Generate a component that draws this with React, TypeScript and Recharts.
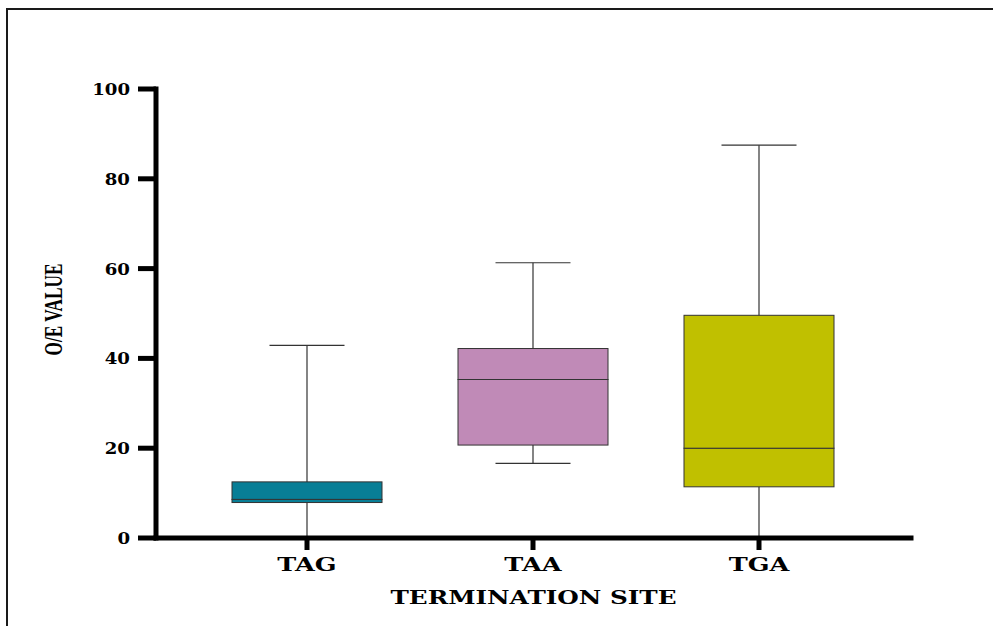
import React from "react";
import { ComposedChart, Bar, Cell, XAxis, YAxis } from "recharts";

const sites = ["TAG", "TAA", "TGA"];
const minimum = [0, 16.6, 0];
const lowerQuartile = [7.9, 20.7, 11.4];
const median = [8.6, 35.3, 20.0];
const upperQuartile = [12.5, 42.2, 49.6];
const maximum = [42.9, 61.3, 87.5];
const yTicks = [0, 20, 40, 60, 80, 100];

const BOX_COLORS = ["#087E96", "#C08AB7", "#C0C000"];
const EDGE = "#333";

// stacked segments: invisible base, lower whisker, two box halves, upper whisker
const rows = sites.map((site, i) => ({
  site,
  base: minimum[i],
  lowWhisker: lowerQuartile[i] - minimum[i],
  lowBox: median[i] - lowerQuartile[i],
  highBox: upperQuartile[i] - median[i],
  highWhisker: maximum[i] - upperQuartile[i],
}));

const whisker = (capAtTop: boolean) => (props: any) => {
  const { x, y, width, height } = props;
  const cx = x + width / 2;
  const capY = capAtTop ? y : y + height;
  const half = width / 4;
  return (
    <g>
      <line x1={cx} x2={cx} y1={y} y2={y + height} stroke={EDGE} strokeWidth={1.2} />
      <line x1={cx - half} x2={cx + half} y1={capY} y2={capY} stroke={EDGE} strokeWidth={1.2} />
    </g>
  );
};

const boxHalf = (props: any) => {
  const { x, y, width, height, fill } = props;
  return <rect x={x} y={y} width={width} height={height} fill={fill} stroke={EDGE} strokeWidth={1} />;
};

const serif = "'DejaVu Serif', serif";

const YTick = (props: any) => {
  const { x, y, payload } = props;
  return (
    <text
      transform={`translate(${x},${y}) scale(1.1,1)`}
      textAnchor="end"
      dy="0.36em"
      fontFamily={serif}
      fontWeight="bold"
      fontSize={16.5}
      fill="#000"
    >
      {payload.value}
    </text>
  );
};

const XTick = (props: any) => {
  const { x, y, payload } = props;
  return (
    <text
      transform={`translate(${x},${y}) scale(1.42,1)`}
      textAnchor="middle"
      dy="0.73em"
      fontFamily={serif}
      fontWeight="bold"
      fontSize={18}
      fill="#000"
    >
      {payload.value}
    </text>
  );
};

const XTitle = (props: any) => {
  const { x, y, width } = props.viewBox;
  return (
    <text
      transform={`translate(${x + width / 2},${y + 66}) scale(1.3,1)`}
      textAnchor="middle"
      fontFamily={serif}
      fontWeight="bold"
      fontSize={19}
      fill="#000"
    >
      TERMINATION SITE
    </text>
  );
};

const YTitle = (props: any) => {
  const { y, height } = props.viewBox;
  return (
    <text
      transform={`translate(62,${y + height / 2 - 4}) rotate(-90) scale(0.69,1)`}
      textAnchor="middle"
      fontFamily="'Liberation Serif', serif"
      fontWeight="bold"
      fontSize={25}
      fill="#000"
    >
      O/E VALUE
    </text>
  );
};

const axisLine = { stroke: "#000", strokeWidth: 5, strokeLinecap: "square" as const };
const tickLine = { stroke: "#000", strokeWidth: 5 };

export default function App() {
  return (
    <div style={{ position: "absolute", left: 0, top: 0, width: 993, height: 626, background: "#fff" }}>
      <div
        style={{
          position: "absolute",
          left: 6,
          top: 8,
          width: 990,
          height: 620,
          borderTop: "2px solid #1a1a1a",
          borderLeft: "2px solid #1a1a1a",
        }}
      />
      <ComposedChart
        width={993}
        height={626}
        data={rows}
        margin={{ top: 89, right: 82, bottom: 0, left: 0 }}
        style={{ position: "absolute", left: 0, top: 0 }}
      >
        <XAxis
          dataKey="site"
          height={88}
          padding={{ left: 38, right: 39 }}
          axisLine={axisLine}
          tickLine={tickLine}
          tickSize={12}
          tickMargin={8}
          tick={<XTick />}
          label={<XTitle />}
        />
        <YAxis
          width={156}
          domain={[0, 100]}
          ticks={yTicks}
          axisLine={axisLine}
          tickLine={tickLine}
          tickSize={18}
          tickMargin={8}
          tick={<YTick />}
          label={<YTitle />}
        />
        <Bar dataKey="base" stackId="box" barSize={150} fill="none" shape={() => null} isAnimationActive={false} />
        <Bar dataKey="lowWhisker" stackId="box" barSize={150} shape={whisker(false)} isAnimationActive={false} />
        <Bar dataKey="lowBox" stackId="box" barSize={150} shape={boxHalf} isAnimationActive={false}>
          {rows.map((r, i) => (
            <Cell key={r.site} fill={BOX_COLORS[i]} />
          ))}
        </Bar>
        <Bar dataKey="highBox" stackId="box" barSize={150} shape={boxHalf} isAnimationActive={false}>
          {rows.map((r, i) => (
            <Cell key={r.site} fill={BOX_COLORS[i]} />
          ))}
        </Bar>
        <Bar dataKey="highWhisker" stackId="box" barSize={150} shape={whisker(true)} isAnimationActive={false} />
      </ComposedChart>
    </div>
  );
}
